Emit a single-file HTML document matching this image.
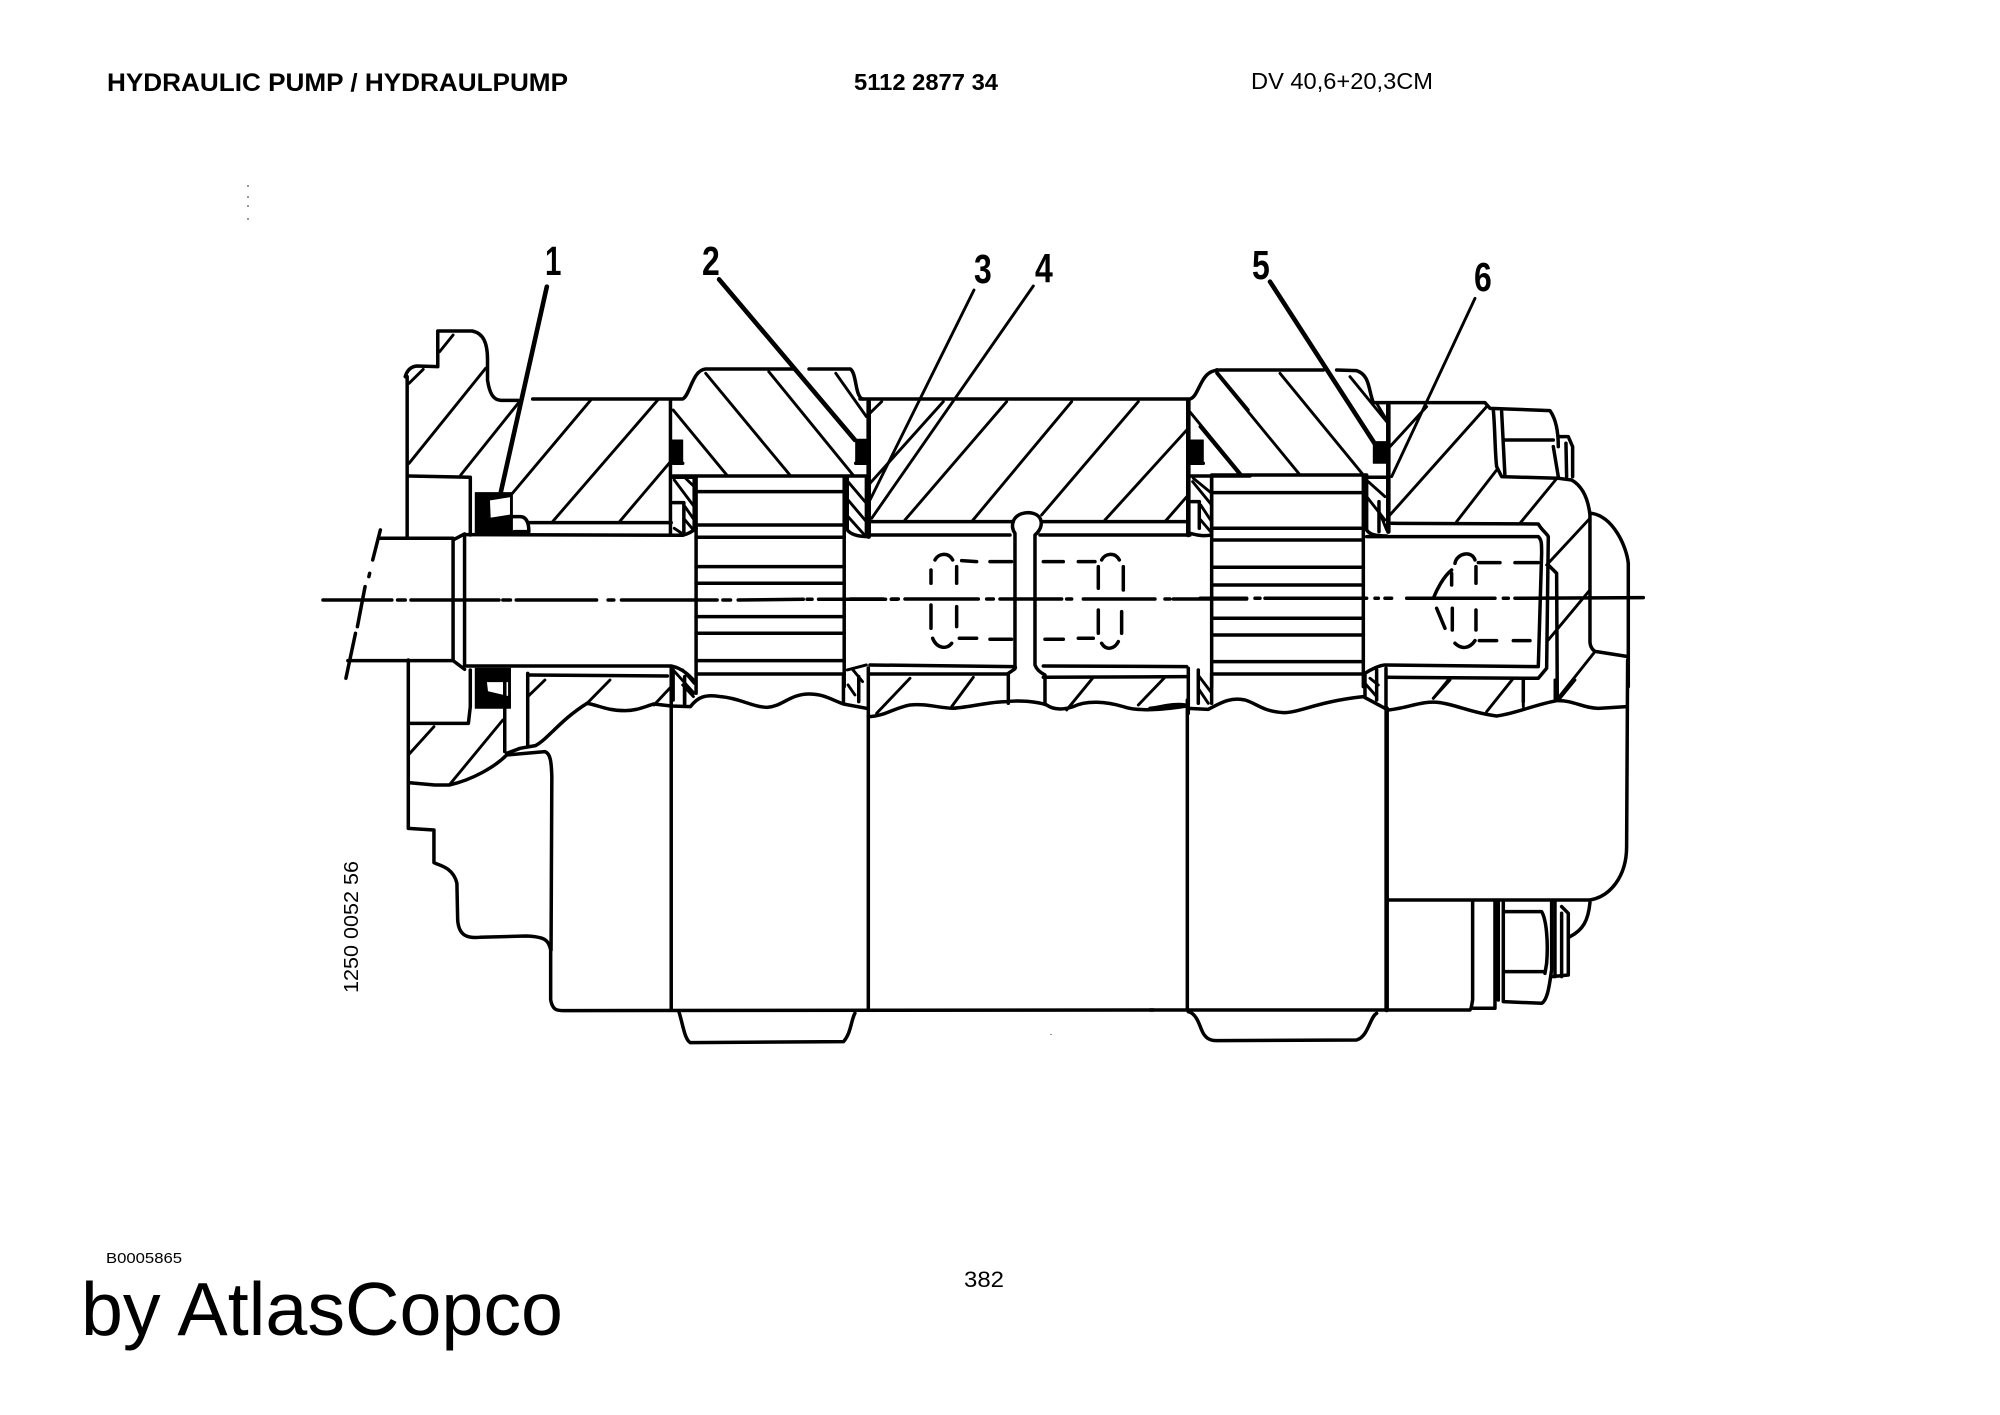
<!DOCTYPE html>
<html>
<head>
<meta charset="utf-8">
<style>
html,body{margin:0;padding:0;background:#fff}
svg{display:block}
.g path{fill:none;stroke:#000;stroke-width:3.5;stroke-linejoin:round;stroke-linecap:round;vector-effect:non-scaling-stroke}
.g path.t{stroke-width:2.9}
.g path.b{stroke-width:4.6}
.g path.f{fill:#000;stroke-width:1;fill-rule:evenodd}
text{font-family:"Liberation Sans",Arial,sans-serif;fill:#000}
</style>
</head>
<body>
<svg xmlns="http://www.w3.org/2000/svg" width="2000" height="1415" viewBox="0 0 2000 1415">
<rect width="2000" height="1415" fill="#fff"/>

<text x="107" y="91" font-size="25" font-weight="bold" textLength="461" lengthAdjust="spacingAndGlyphs">HYDRAULIC PUMP / HYDRAULPUMP</text>
<text x="854" y="90" font-size="23" font-weight="bold" textLength="144" lengthAdjust="spacingAndGlyphs">5112 2877 34</text>
<text x="1251" y="89" font-size="23" textLength="182" lengthAdjust="spacingAndGlyphs">DV 40,6+20,3CM</text>
<text x="106" y="1263" font-size="15" textLength="76" lengthAdjust="spacingAndGlyphs">B0005865</text>
<text x="81" y="1335" font-size="75" textLength="482" lengthAdjust="spacingAndGlyphs">by AtlasCopco</text>
<text x="969" y="1293" font-size="22" textLength="40" lengthAdjust="spacingAndGlyphs" transform="translate(-5,-6)">382</text>
<text transform="translate(358,993) rotate(-90)" font-size="20" textLength="132" lengthAdjust="spacingAndGlyphs">1250 0052 56</text>

<g font-weight="bold" font-size="41">
<text transform="translate(545,275) scale(.72,1)">1</text>
<text transform="translate(702,275) scale(.78,1)">2</text>
<text transform="translate(974,283) scale(.78,1)">3</text>
<text transform="translate(1035,282) scale(.78,1)">4</text>
<text transform="translate(1252,279) scale(.78,1)">5</text>
<text transform="translate(1474,291) scale(.78,1)">6</text>
</g>

<g fill="#999"><rect x="247" y="185" width="2" height="2"/><rect x="247" y="196" width="2" height="2"/><rect x="247" y="205" width="2" height="2"/><rect x="247" y="218" width="2" height="2"/><rect x="1050" y="1034" width="2" height="1"/></g>

<!-- Zone 1: left section, x 300-900 -->
<g class="g" transform="translate(300,220) scale(.3827,.3333)">
<path d="M275 470C280 450 290 440 305 438L360 440L360 333L450 333C480 340 490 370 490 420L490 480C495 520 505 540 525 541L570 541"/>
<path d="M608 537L1000 537C1020 525 1025 450 1060 447L1290 447"/>
<path d="M1330 447L1438 447C1455 460 1450 530 1470 537"/>
<path d="M280 470L280 950"/>
<path class="b" d="M645 200L525 815"/>
<path class="b" d="M1095 178L1450 660"/>
<path class="t" d="M285 490L322 448M365 395L400 345"/>
<path class="t" d="M285 730L485 445M420 765L570 550M555 820L760 540M660 905L935 540M835 905L968 725"/>
<path d="M285 768L445 772L445 945"/>
<path class="f" d="M458 818L555 818L555 940L458 940ZM495 840L497 895L550 885L550 830Z"/>
<path d="M555 890L575 890C590 890 598 905 598 935L560 935"/>
<path d="M598 908L970 908M430 944L1000 946C1020 940 1030 930 1035 925"/>
<path d="M968 540L968 940"/>
<path class="t" d="M975 570L1115 765M1060 460L1280 765M1225 455L1445 765M1400 460L1480 590L1520 545"/>
<path class="f" d="M970 660L1000 660L1000 725L970 725ZM1452 658L1490 658L1490 728L1452 728Z"/>
<path d="M975 730L1000 730M1452 730L1486 730"/>
<path d="M975 768L1480 768"/>
<path d="M1003 848L1003 940M975 848L1003 848M1030 772L1030 925M975 772L1030 772"/>
<path class="t" d="M1003 770L1030 800M978 780L1030 860M1006 860L1030 900M1006 900L1028 930M978 925L995 938"/>
<path d="M1035 770L1035 1420M1422 770L1422 1400"/>
<path d="M1035 815L1422 815M1035 915L1422 915M1035 952L1422 952M1035 1040L1422 1040M1035 1090L1422 1090M1035 1190L1422 1190M1035 1240L1422 1240M1035 1322L1422 1322M1035 1362L1422 1362"/>
<path d="M1430 770L1430 930C1440 945 1460 950 1486 950M1480 770L1480 940"/>
<path class="t" d="M1432 785L1480 850M1432 840L1480 905M1432 890L1475 945"/>
<path class="b" d="M1486 545L1486 950"/>
<path d="M60 1140L240 1140M255 1140L275 1140M290 1140L520 1140M530 1140L550 1140M565 1140L775 1140M805 1140L820 1140M840 1140L1090 1140M1105 1140L1125 1140M1145 1140L1315 1138M1325 1138L1338 1138M1355 1138L1530 1138M1545 1138L1560 1138"/>
<path d="M205 955L400 955M125 1322L400 1322"/>
<path d="M210 930L190 1020M182 1060L180 1070M170 1100L150 1220M145 1240L120 1375"/>
<path d="M400 960L400 1322M430 942L430 1338M400 960L430 942M400 1322L430 1348"/>
<path d="M430 1338L970 1338C1000 1345 1020 1370 1032 1385"/>
<path d="M595 1365L960 1368"/>
<path class="f" d="M458 1345L550 1345L550 1465L458 1465ZM487 1385L545 1385L545 1430L490 1415Z"/>
<path class="t" d="M1430 1350L1480 1335M1432 1395L1450 1425M1445 1350L1470 1385"/>
<path class="t" d="M975 1350L1030 1420M1000 1350L1030 1390M1000 1395L1028 1430"/>
<path d="M975 1350L975 1440M1005 1395L1005 1450"/>
</g>

<!-- Zone 4: lower left, x 300-1153 -->
<g class="g" transform="translate(300,680) scale(.3827,.3333)">
<path d="M283 -60L283 445L350 450L350 548C360 555 400 560 410 610L412 720C415 770 440 775 470 772L590 768C640 770 650 780 655 810L655 960C660 990 670 992 690 992L2230 990"/>
<path d="M283 130L440 130L445 80L445 -30"/>
<path class="t" d="M283 225L350 140M390 315L530 120M595 50L640 0M750 70L810 0M925 75L970 20"/>
<path d="M283 308L352 315L390 315C450 300 510 260 540 225L640 215C655 220 657 250 658 290L656 810"/>
<path d="M535 -10L535 215M595 -20L595 195M540 220L575 205L615 197C650 175 680 120 750 70"/>
<path d="M750 70C780 75 800 92 850 92C880 92 900 80 925 72L970 78L1020 80C1040 50 1060 42 1100 50C1150 55 1180 80 1220 82C1260 80 1280 42 1330 42C1370 42 1390 60 1420 72L1480 85"/>
<path d="M970 -36L970 985M1485 -36L1485 985M1005 -10L1005 75M1420 -10L1420 70M1460 -10L1460 65"/>
<path d="M990 995C1000 1030 1005 1080 1020 1088L1420 1085C1440 1060 1440 1020 1450 1000"/>
</g>

<!-- Zone 2: middle, x 868-1212 -->
<g class="g" transform="translate(850,220) scale(.3333)">
<path d="M30 537L1020 537C1045 530 1050 470 1085 455L1100 450"/>
<path class="t" d="M372 210L60 840M550 198L65 895"/>
<path class="t" d="M60 790L280 545M165 900L470 545M365 905L665 545M575 885L865 545M765 900L1015 625M945 905L1015 825"/>
<path d="M65 905L490 905M575 905L1015 905M65 945L480 945M570 945L1020 945"/>
<path d="M495 1340L495 940C480 920 485 880 535 878C580 880 585 920 555 945L555 1335C560 1350 575 1360 585 1365L585 1450"/>
<path d="M495 1340C500 1345 490 1350 475 1360L475 1450"/>
<path d="M60 1335L490 1340M580 1338L1010 1340M60 1362L470 1362M580 1372L1010 1370"/>
<path class="t" d="M80 1480L180 1375M305 1460L370 1372M650 1470L730 1372M865 1455L945 1372"/>
<path d="M55 1490C100 1490 130 1465 180 1455C230 1450 270 1465 310 1465C370 1460 420 1445 470 1445C510 1440 560 1445 590 1455C610 1470 640 1470 670 1460C710 1440 770 1445 820 1460C860 1475 940 1470 1012 1458"/>
<path class="b" d="M1015 540L1015 945"/>
<path class="t" d="M1015 570L1175 765M1100 455L1195 570"/>
<path d="M1020 768L1200 768"/>
<path class="f" d="M1022 660L1060 660L1060 730L1022 730Z"/>
<path d="M1020 730L1060 730M1025 845L1048 845M1048 845L1048 925M1085 772L1085 945C1060 950 1040 945 1020 940"/>
<path class="t" d="M1028 785L1085 855M1030 775L1085 820M1052 855L1085 905M1052 900L1082 935"/>
<path d="M1015 1345L1015 1480M1045 1350L1045 1450M1085 1360L1085 1450"/>
<path class="t" d="M1048 1370L1082 1415M1048 1410L1075 1450"/>
<g>
<path d="M243 1050L243 1090M255 1020C265 1000 295 995 308 1020M320 1040L320 1090M335 1022L380 1025M420 1025L485 1025M243 1155L243 1225M320 1160L320 1220M248 1255C260 1285 290 1290 305 1270M328 1255L380 1255M420 1258L485 1258"/>
<path d="M580 1025L640 1025M685 1025L735 1025M745 1040L745 1105M755 1020C765 1000 795 995 808 1020M820 1040L820 1110M585 1258L640 1258M685 1255L730 1255M745 1170L745 1240M815 1175L815 1240M755 1270C770 1295 795 1285 805 1265"/>
</g>
<path d="M0 1137L100 1137M125 1137L145 1137M165 1137L385 1137M410 1137L430 1137M450 1137L635 1137M650 1137L665 1137M700 1137L915 1137M945 1137L960 1137M970 1137L1190 1137"/>
</g>

<!-- Zone 3: right, x 1212+ -->
<g class="g" transform="translate(1200,220) scale(.3333)">
<path d="M50 450L370 450M410 450L470 452C510 465 505 510 520 548L855 548L870 565L1050 572C1070 600 1075 640 1075 680"/>
<path class="t" d="M50 460L300 765M240 460L490 765M450 470L560 605M530 550L560 600"/>
<path class="b" d="M565 555L565 935"/>
<path class="f" d="M520 665L565 665L565 730L520 730Z"/>
<path class="b" d="M210 185L530 680"/>
<path class="t" d="M825 235L575 770M570 680L680 560"/>
<path class="t" d="M570 885L860 560M770 905L890 750M960 910L1075 770"/>
<path d="M880 570C885 620 885 700 890 740L905 770L1075 775M905 575L915 770M915 660L1060 660"/>
<path d="M1075 650L1105 650L1118 680L1118 770M1098 670L1100 770M1060 680L1075 770"/>
<path d="M1075 775L1115 780C1150 800 1165 840 1170 885L1170 1265C1170 1280 1180 1295 1190 1295L1285 1310"/>
<path d="M1175 880C1240 890 1280 980 1285 1030L1285 1400"/>
<path class="t" d="M1040 1035L1170 895M1045 1260L1170 1110M1070 1440L1185 1295"/>
<path d="M500 950L1015 950C1025 960 1025 970 1025 1000L1015 1340L555 1335C540 1335 510 1350 495 1360"/>
<path d="M575 910L1015 912C1025 930 1040 940 1045 950L1040 1345L1015 1375L560 1372"/>
<path d="M1045 1035L1070 1060L1072 1440"/>
<path d="M765 1030C770 1000 815 990 825 1020M835 1028L900 1028M945 1028L1015 1028M828 1040L828 1090M755 1060L755 1095M700 1135C710 1110 730 1070 755 1050M710 1165L735 1225M757 1165L757 1230M828 1170L828 1230M765 1270C785 1290 810 1285 825 1262M838 1262L890 1262M940 1262L990 1262"/>
<path d="M35 770L35 1400M490 770L490 1400"/>
<path d="M40 818L490 818M40 925L490 925M40 960L490 960M40 1042L490 1042M40 1095L490 1095M40 1195L490 1195M40 1245L490 1245M40 1325L490 1325M40 1362L490 1362"/>
<path d="M35 765L500 765"/>
<path d="M500 772L500 930C510 945 530 948 560 948M537 845L537 935M500 772L560 772"/>
<path class="t" d="M505 785L555 830M500 830L555 900M540 880L560 930"/>
<path d="M495 1360L495 1430M530 1350L530 1440M558 1345L558 1460"/>
<path class="t" d="M495 1390L530 1430M510 1375L535 1395"/>
<path d="M0 1135L140 1135M165 1135L180 1135M195 1135L500 1135M525 1135L535 1135M555 1135L575 1135M620 1135L885 1135M910 1135L925 1135M945 1135L1330 1133"/>
<path class="t" d="M0 620L120 765M700 1435L745 1380M860 1475L940 1375"/>
<path d="M970 1375L970 1445"/>
</g>

<!-- Zone 5: lower right -->
<g class="g" transform="translate(1150,680) scale(.3333)">
<path d="M0 85C40 80 70 70 105 75M115 85L175 88C210 70 240 50 285 60C320 70 340 95 400 98C450 98 500 65 640 50L705 85M715 90C770 85 820 60 870 68C920 75 970 100 1040 108C1100 100 1150 75 1220 62C1270 60 1300 85 1345 85L1430 80"/>
<path d="M1433 -60L1430 500C1430 590 1380 650 1320 660L712 660"/>
<path class="b" d="M710 85L710 990"/>
<path d="M112 60L112 990M0 990L112 990L710 990"/>
<path d="M712 990L960 990C965 985 965 975 968 960L968 665"/>
<path d="M115 995C140 1000 150 1040 155 1050C165 1075 180 1082 200 1082L620 1080C655 1070 660 1010 680 1000"/>
<path d="M1035 665L1035 985L970 985M1045 665L1045 960"/>
<path d="M1060 665L1060 965L1175 970C1195 960 1200 900 1205 870L1205 665M1065 695L1175 695C1190 720 1195 790 1190 850L1185 880M1065 875L1185 875"/>
<path d="M1215 665L1215 890M1205 890L1255 885L1255 700L1235 680M1235 700L1235 890M1320 668C1315 720 1300 750 1260 770"/>
<path class="t" d="M850 55L900 0M1120 0L1120 80M1215 0L1215 60M1230 55L1275 0"/>
</g>
</svg>
</body>
</html>
